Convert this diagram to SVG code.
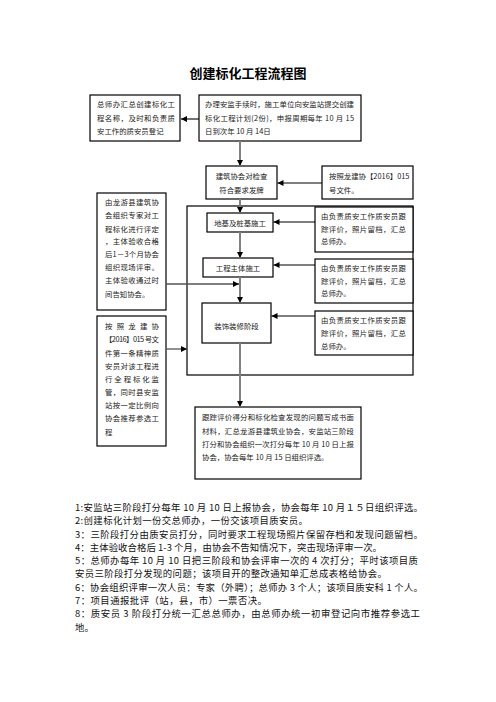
<svg xmlns="http://www.w3.org/2000/svg" width="496" height="702" viewBox="0 0 496 702">
<style>
.bx{fill:#fff;stroke:#000;stroke-width:1.2}
.t{font-family:"Noto Sans CJK SC","Noto Sans",sans-serif;font-size:7.4px;fill:#222}
.c{text-anchor:middle}
.n{font-family:"Noto Sans CJK SC","Noto Sans",sans-serif;font-size:9.4px;fill:#111}
.v{stroke:#808080;stroke-width:2;fill:none}
.h{stroke:#000;stroke-width:1.1;fill:none}
</style>
<defs>
<marker id="ah" markerUnits="userSpaceOnUse" markerWidth="7" markerHeight="6" refX="6" refY="3" orient="auto">
<path d="M0,0 L6,3 L0,6 z" fill="#000"/>
</marker>
</defs>
<rect width="496" height="702" fill="#fff"/>
<text x="248" y="78" text-anchor="middle" font-family="Noto Sans CJK SC,sans-serif" font-size="13" font-weight="bold" fill="#000">创建标化工程流程图</text>

<g id="frame"><rect x="187" y="206" width="226" height="169" fill="none" stroke="#000" stroke-width="1.2"/></g>

<g id="nodeA"><rect class="bx" x="90" y="95" width="90" height="46"/>
<text class="t" x="97" y="107" textLength="78" lengthAdjust="spacing">总师办汇总创建标化工</text>
<text class="t" x="97" y="121" textLength="78" lengthAdjust="spacing">程名称，及时和负责质</text>
<text class="t" x="97" y="134">安工作的质安员登记</text></g>

<g id="nodeB"><rect class="bx" x="199" y="95" width="162" height="46"/>
<text class="t" x="205" y="107" textLength="149" lengthAdjust="spacing">办理安监手续时，施工单位向安监站提交创建</text>
<text class="t" x="205" y="121" textLength="149" lengthAdjust="spacing">标化工程计划(2份)，申报周期每年 10 月 15</text>
<text class="t" x="205" y="134">日到次年 10 月 14日</text></g>

<g id="nodeC"><rect class="bx" x="206" y="166" width="71" height="33"/>
<text class="t c" x="241.5" y="179">建筑协会对检查</text>
<text class="t c" x="241.5" y="193">符合要求发牌</text></g>

<g id="nodeD"><rect class="bx" x="322" y="166" width="91" height="33"/>
<text class="t" x="329" y="179">按照龙建协【2016】015</text>
<text class="t" x="329" y="193">号文件。</text></g>

<g id="nodeE"><rect class="bx" x="207" y="213" width="66" height="19"/>
<text class="t c" x="240" y="225.5">地基及桩基施工</text></g>

<g id="nodeF"><rect class="bx" x="315" y="207" width="98" height="45"/>
<text class="t" x="321" y="219" textLength="85" lengthAdjust="spacing">由负责质安工作质安员跟</text>
<text class="t" x="321" y="232" textLength="85" lengthAdjust="spacing">踪评价，照片留档，汇总</text>
<text class="t" x="321" y="244">总师办。</text></g>

<g id="nodeG"><rect class="bx" x="203" y="258" width="70" height="19"/>
<text class="t c" x="238" y="270.5">工程主体施工</text></g>

<g id="nodeH"><rect class="bx" x="315" y="259" width="98" height="44"/>
<text class="t" x="321" y="271" textLength="85" lengthAdjust="spacing">由负责质安工作质安员跟</text>
<text class="t" x="321" y="284" textLength="85" lengthAdjust="spacing">踪评价，照片留档，汇总</text>
<text class="t" x="321" y="296">总师办。</text></g>

<g id="nodeI"><rect class="bx" x="97" y="193" width="69" height="117"/>
<text class="t" x="105" y="205" textLength="54" lengthAdjust="spacing">由龙游县建筑协</text>
<text class="t" x="105" y="218" textLength="54" lengthAdjust="spacing">会组织专家对工</text>
<text class="t" x="105" y="232" textLength="54" lengthAdjust="spacing">程标化进行评定</text>
<text class="t" x="105" y="244" textLength="54" lengthAdjust="spacing">，主体验收合格</text>
<text class="t" x="105" y="257" textLength="54" lengthAdjust="spacing">后1－3个月协会</text>
<text class="t" x="105" y="270" textLength="54" lengthAdjust="spacing">组织现场评审。</text>
<text class="t" x="105" y="283" textLength="54" lengthAdjust="spacing">主体验收通过时</text>
<text class="t" x="105" y="297">间告知协会。</text></g>

<g id="nodeJ"><rect class="bx" x="202" y="303" width="69" height="40"/>
<text class="t c" x="236.5" y="329">装饰装修阶段</text></g>

<g id="nodeK"><rect class="bx" x="315" y="311" width="98" height="44"/>
<text class="t" x="321" y="323" textLength="85" lengthAdjust="spacing">由负责质安工作质安员跟</text>
<text class="t" x="321" y="336" textLength="85" lengthAdjust="spacing">踪评价，照片留档，汇总</text>
<text class="t" x="321" y="349">总师办。</text></g>

<g id="nodeL"><rect class="bx" x="97" y="316" width="69" height="130"/>
<text class="t" x="105" y="329" textLength="54" lengthAdjust="spacing">按照龙建协</text>
<text class="t" x="105" y="342" textLength="54" lengthAdjust="spacing">【2016】015 号文</text>
<text class="t" x="105" y="355.5" textLength="54" lengthAdjust="spacing">件第一条精神质</text>
<text class="t" x="105" y="368.5" textLength="54" lengthAdjust="spacing">安员对该工程进</text>
<text class="t" x="105" y="381.5" textLength="54" lengthAdjust="spacing">行全程标化监</text>
<text class="t" x="105" y="395" textLength="54" lengthAdjust="spacing">管，同时县安监</text>
<text class="t" x="105" y="408" textLength="54" lengthAdjust="spacing">站按一定比例向</text>
<text class="t" x="105" y="421" textLength="54" lengthAdjust="spacing">协会推荐参选工</text>
<text class="t" x="105" y="434.5">程</text></g>

<g id="nodeM"><rect class="bx" x="195" y="407" width="166" height="72"/>
<text class="t" x="202" y="420" textLength="152" lengthAdjust="spacing">跟踪评价得分和标化检查发现的问题写成书面</text>
<text class="t" x="202" y="434" textLength="152" lengthAdjust="spacing">材料，汇总龙游县建筑业协会，安监站三阶段</text>
<text class="t" x="202" y="447" textLength="152" lengthAdjust="spacing">打分和协会组织一次打分每年 10 月 10 日上报</text>
<text class="t" x="202" y="460">协会，协会每年 10 月 15 日组织评选。</text></g>

<g id="connectors">
<line class="h" x1="199" y1="119" x2="181" y2="119" marker-end="url(#ah)"/>
<line class="v" x1="240" y1="141" x2="240" y2="166" marker-end="url(#ah)"/>
<line class="h" x1="322" y1="183" x2="277.5" y2="183" marker-end="url(#ah)"/>
<line class="v" x1="240" y1="199" x2="240" y2="213" marker-end="url(#ah)"/>
<line class="h" x1="315" y1="222" x2="273.5" y2="222" marker-end="url(#ah)"/>
<line class="v" x1="240" y1="232" x2="240" y2="258" marker-end="url(#ah)"/>
<line class="h" x1="315" y1="265" x2="273.5" y2="265" marker-end="url(#ah)"/>
<line x1="166" y1="284" x2="239" y2="284" stroke="#555" stroke-width="1.3" marker-end="url(#ah)"/>
<line class="v" x1="240" y1="277" x2="240" y2="303" marker-end="url(#ah)"/>
<line class="h" x1="315" y1="316" x2="271.5" y2="316" marker-end="url(#ah)"/>
<line x1="166" y1="349" x2="187" y2="349" stroke="#555" stroke-width="1.3" marker-end="url(#ah)"/>
<line class="v" x1="240" y1="343" x2="240" y2="407" marker-end="url(#ah)"/>
</g>

<g id="notes">
<text class="n" x="75" y="511" textLength="348" lengthAdjust="spacing">1:安监站三阶段打分每年 10 月 10 日上报协会，协会每年 10 月１５日组织评选。</text>
<text class="n" x="75" y="524" textLength="233" lengthAdjust="spacing">2:创建标化计划一份交总师办，一份交该项目质安员。</text>
<text class="n" x="75" y="537.5" textLength="348" lengthAdjust="spacing">3：三阶段打分由质安员打分，同时要求工程现场照片保留存档和发现问题留档。</text>
<text class="n" x="75" y="551" textLength="307" lengthAdjust="spacing">4：主体验收合格后 1-3 个月，由协会不告知情况下，突击现场评审一次。</text>
<text class="n" x="75" y="564" textLength="343" lengthAdjust="spacing">5：总师办每年 10 月 10 日把三阶段和协会评审一次的 4 次打分；平时该项目质</text>
<text class="n" x="75" y="577" textLength="312" lengthAdjust="spacing">安员三阶段打分发现的问题；该项目开的整改通知单汇总成表格给协会。</text>
<text class="n" x="75" y="591" textLength="348" lengthAdjust="spacing">6：协会组织评审一次人员：专家（外聘）；总师办 3 个人；该项目质安科 1 个人。</text>
<text class="n" x="75" y="604" textLength="192" lengthAdjust="spacing">7：项目通报批评（站，县，市）一票否决。</text>
<text class="n" x="75" y="617" textLength="345" lengthAdjust="spacing">8：质安员 3 阶段打分统一汇总总师办，由总师办统一初审登记向市推荐参选工</text>
<text class="n" x="75" y="631">地。</text>
</g>
</svg>
